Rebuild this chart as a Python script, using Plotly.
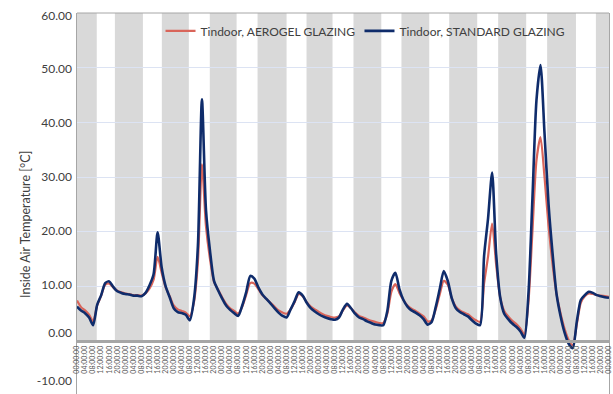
import plotly.graph_objects as go

# ---------------- data ----------------
hours = list(range(0, 265, 2))  # hours from start of the 11-day period

aerogel = [
    7.4, 6.2, 5.6, 4.8, 3.6, 6.5, 8.3, 10.3, 10.5, 9.8, 9.2, 8.9,
    8.7, 8.6, 8.4, 8.4, 8.3, 8.7, 9.6, 11.2, 15.4, 12.5, 9.8, 8.2,
    6.5, 5.8, 5.5, 5.2, 4.5, 7.0, 14.5, 32.3, 21.0, 15.0, 10.8, 9.4,
    8.0, 6.8, 6.0, 5.5, 5.0, 6.3, 8.5, 10.6, 10.5, 9.5, 8.4, 7.7,
    7.0, 6.3, 5.6, 5.2, 5.0, 5.8, 7.1, 8.6, 8.2, 7.1, 6.3, 5.8,
    5.3, 4.9, 4.6, 4.4, 4.3, 4.5, 5.6, 6.5, 6.0, 5.2, 4.6, 4.3,
    4.0, 3.7, 3.5, 3.3, 3.3, 5.0, 9.0, 10.4, 8.8, 7.5, 6.5, 5.9,
    5.5, 5.0, 4.5, 3.6, 3.8, 5.8, 8.5, 11.0, 10.3, 7.8, 6.3, 5.6,
    5.2, 4.9, 4.3, 3.8, 3.5, 10.5, 15.5, 21.5, 14.0, 8.0, 5.5, 4.5,
    3.7, 3.1, 2.3, 1.2, 7.0, 20.0, 33.0, 37.3, 30.0, 21.0, 14.0, 8.5,
    5.0, 2.2, 0.2, -0.8, 3.0, 7.0, 8.2, 8.7, 8.6, 8.4, 8.3, 8.2,
    8.1,
]

standard = [
    6.3, 5.6, 5.1, 4.3, 2.9, 6.6, 8.4, 10.6, 10.9, 9.9, 9.1, 8.8,
    8.6, 8.5, 8.3, 8.3, 8.2, 8.8, 10.2, 12.2, 19.9, 13.5, 10.0, 8.0,
    6.0, 5.3, 5.1, 4.8, 3.8, 7.5, 17.4, 44.2, 24.0, 16.5, 11.0, 9.3,
    7.8, 6.5, 5.7, 5.1, 4.6, 6.5, 9.0, 11.9, 11.4, 9.8, 8.5, 7.7,
    6.9, 6.0, 5.2, 4.6, 4.3, 5.8, 7.3, 8.9, 8.3, 7.0, 6.0, 5.4,
    4.9, 4.5, 4.2, 4.0, 3.9, 4.3, 5.8, 6.8, 6.0, 5.0, 4.3, 4.0,
    3.6, 3.3, 3.0, 2.9, 2.9, 5.5, 11.0, 12.5, 9.5, 7.5, 6.3, 5.6,
    5.2, 4.7, 4.0, 3.0, 3.5, 6.2, 9.5, 12.8, 11.0, 7.8, 6.0, 5.3,
    4.9, 4.5, 3.8, 3.2, 2.9, 15.5, 22.5, 30.8, 16.0, 8.0, 5.0, 4.0,
    3.2, 2.6, 1.8, 0.6, 8.5, 26.0, 44.0, 50.5, 38.0, 25.0, 16.0, 8.5,
    4.5, 1.5, -0.5, -1.3, 3.5, 7.5, 8.4, 9.0, 8.8, 8.4, 8.2, 8.0,
    7.9,
]

# daylight (unshaded) periods, hours from start
day_start = [9.8, 32.7, 55.5, 79.2, 104.0, 126.8, 151.0, 174.8, 198.6, 222.9, 247.6]
day_end   = [18.8, 42.1, 65.9, 89.6, 113.9, 137.2, 161.0, 184.7, 209.0, 233.3, 257.5]

# x tick labels (every 4 hours)
hour_labels = ["00:00:00", "04:00:00", "08:00:00", "12:00:00", "16:00:00", "20:00:00"]
n_days = 11
x_tickvals = list(range(0, 24 * n_days + 1, 4))
x_ticktext = [hour_labels[(v // 4) % 6] for v in x_tickvals]

# y axis
y_gridvals = [10, 20, 30, 40, 50]
y_labels = ["-10.00", "0.00", "10.00", "20.00", "30.00", "40.00", "50.00", "60.00"]
y_label_pos = [-7.3, 1.5, 10.2, 20.1, 30, 40, 49.8, 59.4]
y_title = "Inside Air Temperature [°C]"

series_names = ["Tindoor, AEROGEL GLAZING", "Tindoor, STANDARD GLAZING"]

# ---------------- figure ----------------
FONT = "Lato"
fig = go.Figure()

# night shading
night = []
prev = 0
for s, e in zip(day_start, day_end):
    night.append((prev, s))
    prev = e
night.append((prev, 24 * n_days))
for a, b in night:
    fig.add_shape(type="rect", xref="x", yref="y", x0=a, x1=b, y0=0, y1=60,
                  fillcolor="#D9D9D9", line_width=0, layer="below")

fig.add_trace(go.Scatter(x=hours, y=aerogel, mode="lines", name=series_names[0],
                         legend="legend",
                         line=dict(color="#D9655A", width=2.2, shape="spline", smoothing=0.7)))
fig.add_trace(go.Scatter(x=hours, y=standard, mode="lines", name=series_names[1],
                         legend="legend2",
                         line=dict(color="#0F2C6B", width=2.6, shape="spline", smoothing=0.7)))
# invisible trace for label axis
fig.add_trace(go.Scatter(x=[0], y=[0], yaxis="y2", mode="markers",
                         marker=dict(opacity=0), showlegend=False, hoverinfo="skip"))

YMIN = -9.69
legend_style = dict(orientation="h", y=0.953, xanchor="left", yanchor="middle",
                    bgcolor="rgba(0,0,0,0)", font=dict(size=12, color="#404040", family=FONT),
                    itemwidth=30)
fig.update_layout(
    width=613, height=394,
    margin=dict(l=77, r=4, t=13, b=0),
    paper_bgcolor="white", plot_bgcolor="white",
    font=dict(family=FONT, color="#404040"),
    showlegend=True,
    legend=dict(x=0.157, **legend_style),
    legend2=dict(x=0.531, **legend_style),
    xaxis=dict(range=[0, 24 * n_days], anchor="free", position=(394 - 341) / 381,
               tickmode="array", tickvals=x_tickvals, ticktext=x_ticktext,
               tickangle=-90, tickfont=dict(size=7, color="#595959", family=FONT),
               showgrid=False, zeroline=False, showline=True, linecolor="#A6A6A6",
               linewidth=3, ticks=""),
    yaxis=dict(range=[YMIN, 60], tickmode="array", tickvals=y_gridvals,
               showticklabels=False, showgrid=True, gridcolor="#DCE3F3", gridwidth=1,
               zeroline=False, showline=True, linecolor="#A6A6A6", linewidth=1,
               mirror=True, ticks=""),
    yaxis2=dict(range=[YMIN, 60], overlaying="y", side="left", tickmode="array",
                tickvals=y_label_pos, ticktext=y_labels, showgrid=False, zeroline=False,
                showline=False, ticks="", ticklabelstandoff=4,
                tickfont=dict(size=12, color="#404040", family=FONT)),
)
fig.add_shape(type="line", xref="paper", yref="paper", x0=0, x1=1, y0=1, y1=1,
              line=dict(color="#A6A6A6", width=1))
fig.add_annotation(text=y_title, xref="paper", yref="paper",
                   x=(25 - 77) / 532, y=(394 - 225) / 381, xanchor="center", yanchor="middle",
                   textangle=-90, showarrow=False,
                   font=dict(size=12.5, family=FONT, color="#404040"))

fig.write_html("out.html", config={"displayModeBar": False},
               post_script="document.body.style.margin='0';")
